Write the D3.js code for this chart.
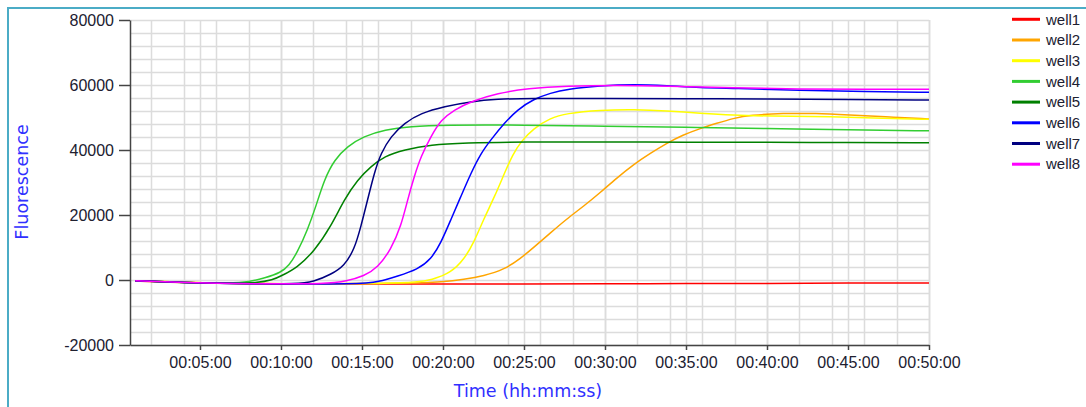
<!DOCTYPE html>
<html>
<head>
<meta charset="utf-8">
<script src="https://cdn.jsdelivr.net/npm/d3@7"></script>
<style>
  body { margin: 0; background: #fff; }
  svg text { font-family: "Liberation Sans", Arial, sans-serif; }
</style>
</head>
<body>
<div class="canvas"></div>
<script>
// readings: [time in minutes, fluorescence]
const well1 = [[1,-300],[3,-700],[6,-1000],[10,-1200],[15,-1250],[20,-1250],[25,-1200],[30,-1200],[35,-1100],[40,-1050],[45,-950],[50,-900]];
const well2 = [[1,-200],[5,-900],[10,-1200],[18,-1100],[20,-600],[21.3,200],[22.5,1230],[23.8,3280],[24.8,6660],[25.6,10050],[26.6,14350],[27.6,18660],[28.7,22760],[29.7,26860],[30.7,31280],[31.8,35690],[32.8,38970],[33.8,42050],[34.8,44610],[35.9,46670],[36.9,48210],[37.9,49740],[39,50770],[41,51280],[43,51280],[45.1,50770],[47.2,50260],[50,49540]];
const well3 = [[1,-200],[5,-900],[10,-1200],[17,-1100],[18.3,-700],[19.3,0],[20.5,2250],[21.3,6350],[21.9,11470],[22.5,18630],[23.2,25790],[23.8,32950],[24.3,38500],[24.8,42560],[25.6,46670],[26.6,49740],[27.6,51280],[29.7,52310],[31.8,52510],[33.8,52100],[35.9,51280],[37.9,50670],[40,50460],[44.1,50260],[47.2,49740],[50,49430]];
const well4 = [[1,-200],[4,-800],[7,-1000],[8,-600],[9,600],[10,2300],[10.5,4500],[11,8390],[11.65,15550],[12.16,22710],[12.67,30900],[13.3,37030],[14.1,41130],[15.1,44200],[16.4,46240],[18,47260],[20,47700],[25,47700],[30,47300],[35,47000],[40,46600],[45,46200],[50,45900]];
const well5 = [[1,-200],[4,-800],[7,-1100],[8.5,-900],[9.5,0],[10,1230],[11,3800],[12.06,8900],[13.09,16570],[13.9,24760],[14.73,30900],[15.56,35000],[16.38,38060],[17.6,40100],[19.26,41640],[21.3,42150],[25,42500],[30,42500],[35,42400],[40,42400],[45,42300],[50,42200]];
const well6 = [[1,-200],[4,-800],[8,-1200],[15,-1300],[16,-600],[17.2,1200],[18.44,3280],[19.26,6350],[19.88,11470],[20.49,18630],[21.11,25790],[21.73,32950],[22.35,39080],[22.96,43170],[23.79,48290],[24.6,52400],[25.6,55690],[26.64,57530],[27.65,58760],[29.7,59790],[31.8,60200],[33.8,59790],[35.9,59170],[37.9,58970],[42,58350],[46.1,57940],[50,57740]];
const well7 = [[1,-200],[4,-800],[8,-1200],[11,-1200],[12,-600],[13.09,1740],[13.9,4300],[14.53,9410],[14.94,16570],[15.35,24760],[15.76,32950],[16.17,39080],[16.79,44200],[17.61,48290],[18.64,51360],[20.08,53400],[21.73,54940],[23.37,55650],[25.23,55960],[30,55800],[35,55800],[40,55700],[45,55500],[50,55400]];
const well8 = [[1,-200],[4,-800],[8,-1200],[13,-1200],[14,-400],[15.14,1230],[15.97,3800],[16.79,9410],[17.41,16570],[17.82,24760],[18.23,31920],[18.64,38060],[19.26,44200],[19.88,49310],[20.7,52380],[21.73,54940],[23.37,57490],[25.23,58930],[27.65,59690],[30.73,59900],[33.8,59690],[37.9,59070],[42,58760],[46,58660],[50,58660]];

const wells = [well1, well2, well3, well4, well5, well6, well7, well8];
const wellNames = ['well1', 'well2', 'well3', 'well4', 'well5', 'well6', 'well7', 'well8'];
const wellColors = ['#ff0000', '#ffa500', '#ffff00', '#32cd32', '#008000', '#0000ff', '#000080', '#ff00ff'];

const yTicks = [-20000, 0, 20000, 40000, 60000, 80000];
const xTicks = [5, 10, 15, 20, 25, 30, 35, 40, 45, 50];

// svg container
const svg = d3.select('.canvas')
  .append('svg')
    .attr('width', 1086)
    .attr('height', 407);

// frame lines (top + left only)
svg.append('path')
  .attr('d', 'M8,407V8H1086')
  .attr('fill', 'none')
  .attr('stroke', '#4bacc6')
  .attr('stroke-width', 2);

const margin = {top: 20, left: 130};
const graphWidth = 799;
const graphHeight = 325;

const graph = svg.append('g')
  .attr('transform', `translate(${margin.left}, ${margin.top})`);

const x = d3.scaleLinear().domain([0.68, 50]).range([0, graphWidth]);
const y = d3.scaleLinear().domain([-20000, 80000]).range([graphHeight, 0]);

// grid
const vGrid = d3.range(2, 51, 2).concat(xTicks);
const hGrid = d3.range(-20000, 80001, 4000);

graph.append('g').selectAll('line')
  .data(vGrid)
  .enter().append('line')
    .attr('x1', d => Math.round(x(d)) + 0.5)
    .attr('x2', d => Math.round(x(d)) + 0.5)
    .attr('y1', 0)
    .attr('y2', graphHeight)
    .attr('stroke', '#dcdcdc')
    .attr('stroke-width', 1.5);

graph.append('g').selectAll('line')
  .data(hGrid)
  .enter().append('line')
    .attr('x1', 0)
    .attr('x2', graphWidth)
    .attr('y1', d => Math.round(y(d)) + 0.5)
    .attr('y2', d => Math.round(y(d)) + 0.5)
    .attr('stroke', '#dcdcdc')
    .attr('stroke-width', 1.5);

// axes
const pad = n => String(n).padStart(2, '0');

const xAxis = d3.axisBottom(x)
  .tickValues(xTicks)
  .tickSize(5)
  .tickSizeOuter(0)
  .tickPadding(7)
  .tickFormat(m => '00:' + pad(m) + ':00');

const yAxis = d3.axisLeft(y)
  .tickValues(yTicks)
  .tickSize(11)
  .tickSizeOuter(0)
  .tickPadding(5)
  .tickFormat(d => d);

const xAxisGroup = graph.append('g')
  .attr('transform', `translate(0, ${graphHeight})`)
  .call(xAxis);

const yAxisGroup = graph.append('g').call(yAxis);

[xAxisGroup, yAxisGroup].forEach(g => {
  g.select('.domain').attr('stroke', '#444').attr('stroke-width', 1.5);
  g.selectAll('.tick line').attr('stroke', '#444').attr('stroke-width', 1.5);
  g.selectAll('text')
    .attr('fill', '#202030')
    .style('font-size', '16px')
    .style('font-family', '"Liberation Sans", Arial, sans-serif');
});

// lines
const line = d3.line()
  .x(d => x(d[0]))
  .y(d => y(d[1]))
  .curve(d3.curveBasis);

graph.append('g').selectAll('path')
  .data(wells)
  .enter().append('path')
    .attr('d', line)
    .attr('fill', 'none')
    .attr('stroke', (d, i) => wellColors[i])
    .attr('stroke-width', 1.5);

// axis titles
svg.append('text')
  .attr('transform', 'translate(28, 182) rotate(-90)')
  .attr('text-anchor', 'middle')
  .attr('fill', '#3030ff')
  .style('font-family', '"DejaVu Sans", sans-serif')
  .style('font-size', '17.5px')
  .text('Fluorescence');

svg.append('text')
  .attr('x', 528)
  .attr('y', 397)
  .attr('text-anchor', 'middle')
  .attr('fill', '#3030ff')
  .style('font-family', '"DejaVu Sans", sans-serif')
  .style('font-size', '17.5px')
  .text('Time (hh:mm:ss)');

// legend
const legend = svg.append('g').selectAll('g')
  .data(wellNames)
  .enter().append('g')
    .attr('transform', (d, i) => `translate(0, ${19.3 + i * 20.7})`);

legend.append('line')
  .attr('x1', 1012)
  .attr('x2', 1040)
  .attr('stroke', (d, i) => wellColors[i])
  .attr('stroke-width', 3);

legend.append('text')
  .attr('x', 1046)
  .attr('dy', '0.35em')
  .attr('fill', '#202030')
  .style('font-size', '15px')
  .text(d => d);
</script>
</body>
</html>
